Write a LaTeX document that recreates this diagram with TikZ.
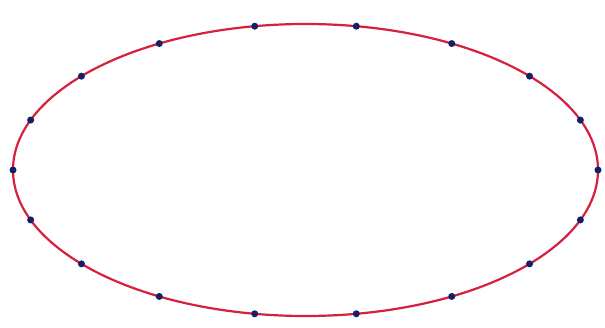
\documentclass[tikz,border=0pt]{standalone}
\usetikzlibrary{calc}
\definecolor{curvered}{RGB}{214,32,62}
\definecolor{dotblue}{RGB}{22,30,100}
\tikzset{
  curve/.style={draw=curvered, line width=2.2pt},
  pointdot/.style={circle, fill=dotblue, inner sep=0pt, minimum size=7pt}
}
\begin{document}
\begin{tikzpicture}[x=1pt,y=1pt]
\useasboundingbox[fill=white] (0,0) rectangle (605,327);
\coordinate (c) at (305.5,157);
\draw[curve] (c) ellipse [x radius=292.5, y radius=146];
\foreach \i in {0,...,17}{
  \node[pointdot] (p\i) at ($(c)+({292.5*cos(20*\i)},{146*sin(20*\i)})$) {};
}
\end{tikzpicture}
\end{document}
